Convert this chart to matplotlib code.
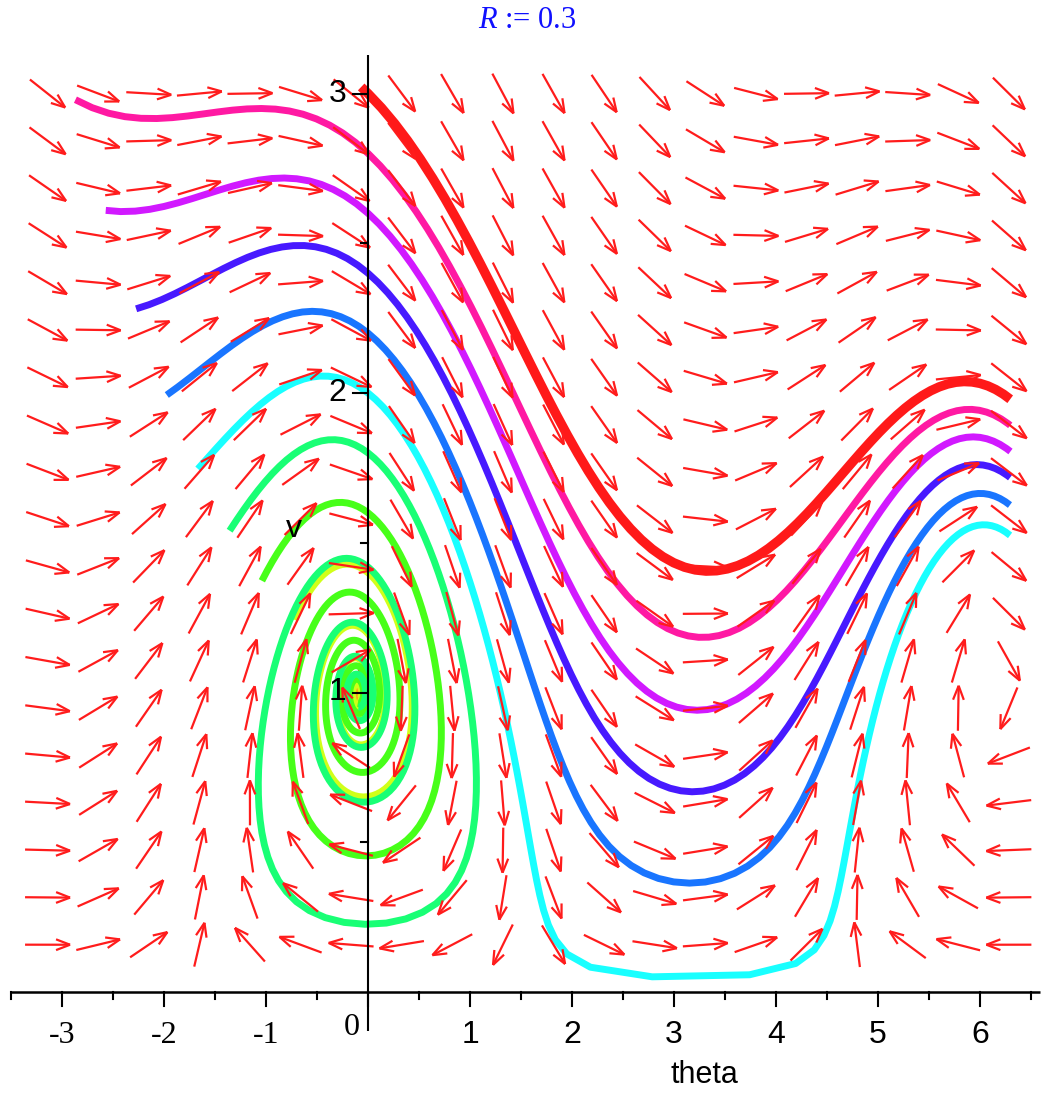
import numpy as np
import matplotlib
matplotlib.use("Agg")
import matplotlib.pyplot as plt
from matplotlib.collections import LineCollection
from matplotlib.colors import hsv_to_rgb

# glider (phugoid) model: theta' = (v^2 - cos theta)/v, v' = -sin theta - D v^2
DRAG = 0.1
THETA_RANGE = (-np.pi, 2 * np.pi)
V_RANGE = (0.0, 3.0)
GRID_N = 20

# initial conditions at t = 0 and the time span
THETA0 = [0.0, 0.0, 0.0, 0.0, 0.0, 0.0, 0.0, 0.0, 0.0, 0.0, 0.0]
V0 = [3.0, 2.8, 2.6, 2.4, 2.2, 2.0, 1.8, 1.6, 1.4, 1.2, 1.0]
T_SPAN = (-1.0, 20.0)
HUES = [1.0, 0.9, 0.8, 0.7, 0.6, 0.5, 0.4, 0.3, 0.2, 0.1, 0.0]

X_TICKS = [-3, -2, -1, 0, 1, 2, 3, 4, 5, 6]
Y_TICKS = [1, 2, 3]

# pixel layout of the axes
PX_X, PX_Y = 102.0, 299.5
X0_PX, Y0_PX = 368.0, 992.0
W_PX, H_PX = 1046, 1093


def rhs(th, v):
    return (v * v - np.cos(th)) / v, -np.sin(th) - DRAG * v * v


def inside(th, v):
    return (THETA_RANGE[0] - 0.01 <= th <= THETA_RANGE[1] + 0.01
            and 0.0 < v <= V_RANGE[1] + 0.02)


def integrate(th, v, t_end, dt=0.005, every=10):
    steps = int(round(abs(t_end) / dt))
    h = dt if t_end > 0 else -dt
    pts = [(th, v)]
    for i in range(steps):
        k1 = rhs(th, v)
        k2 = rhs(th + h / 2 * k1[0], v + h / 2 * k1[1])
        k3 = rhs(th + h / 2 * k2[0], v + h / 2 * k2[1])
        k4 = rhs(th + h * k3[0], v + h * k3[1])
        th = th + h / 6 * (k1[0] + 2 * k2[0] + 2 * k3[0] + k4[0])
        v = v + h / 6 * (k1[1] + 2 * k2[1] + 2 * k3[1] + k4[1])
        if not inside(th, v):
            pts.append((th, v))
            return pts
        if (i + 1) % every == 0:
            pts.append((th, v))
    if pts[-1] != (th, v):
        pts.append((th, v))
    return pts


fig = plt.figure(figsize=(W_PX / 100, H_PX / 100), dpi=100)
ax = fig.add_axes([0, 0, 1, 1])
ax.set_xlim(-X0_PX / PX_X, (W_PX - X0_PX) / PX_X)
ax.set_ylim(-(H_PX - Y0_PX) / PX_Y, Y0_PX / PX_Y)
ax.axis("off")

# trajectories
for i in reversed(range(len(V0))):
    back = integrate(THETA0[i], V0[i], T_SPAN[0])
    fwd = integrate(THETA0[i], V0[i], T_SPAN[1])
    pts = np.array(back[::-1] + fwd[1:])
    color = hsv_to_rgb((HUES[i] % 1.0, 0.9, 1.0))
    lw = 6.8 if i == 0 else 5.0
    ax.plot(pts[:, 0], pts[:, 1], color=color, lw=lw, solid_capstyle="butt",
            solid_joinstyle="round", zorder=2)

# direction field
arrow_len, head_len, head_ang = 45.0, 15.0, np.radians(21)
segs = []
for th in np.linspace(THETA_RANGE[0], THETA_RANGE[1], GRID_N):
    for v in np.linspace(V_RANGE[0], V_RANGE[1], GRID_N)[1:]:
        dth, dv = rhs(th, v)
        ux, uy = dth * PX_X, dv * PX_Y
        n = np.hypot(ux, uy)
        ux, uy = ux / n, uy / n
        tail = (-ux * arrow_len / 2, -uy * arrow_len / 2)
        tip = (ux * arrow_len / 2, uy * arrow_len / 2)
        lines = [[tail, tip]]
        for s in (1, -1):
            c, sn = np.cos(s * head_ang), np.sin(s * head_ang)
            bx = -(ux * c - uy * sn) * head_len
            by = -(ux * sn + uy * c) * head_len
            lines.append([tip, (tip[0] + bx, tip[1] + by)])
        for a, b in lines:
            segs.append([(th + a[0] / PX_X, v + a[1] / PX_Y),
                         (th + b[0] / PX_X, v + b[1] / PX_Y)])
ax.add_collection(LineCollection(segs, colors="#ff1c1c", linewidths=1.6,
                                 zorder=3))

# axes lines and ticks
ax.plot([-3.51, 6.59], [0, 0], color="black", lw=1.8, zorder=4,
        solid_capstyle="butt")
ax.plot([0, 0], [-0.13, 3.13], color="black", lw=1.5, zorder=4,
        solid_capstyle="butt")
for x in np.arange(-3.5, 6.51, 0.5):
    ln = 14 if float(x).is_integer() else 7
    ax.plot([x, x], [0, -ln / PX_Y], color="black", lw=1.5, zorder=4)
for y in np.arange(0.5, 3.01, 0.5):
    ln = 15 if float(y).is_integer() else 7
    ax.plot([0, -ln / PX_X], [y, y], color="black", lw=1.5, zorder=4)

sans = "Liberation Sans"
serif = "Liberation Serif"
for x in X_TICKS:
    if x == 0:
        ax.text(-0.16, -0.12, "0", family=serif, fontsize=23,
                ha="center", va="center")
    elif x < 0:
        ax.text(x, -0.145, f"-{abs(x)}", family=serif, fontsize=23,
                ha="center", va="center")
    else:
        ax.text(x, -0.145, str(x), family=sans, fontsize=23,
                ha="center", va="center")
for y in Y_TICKS:
    ax.text(-0.21, y, str(y), family=sans, fontsize=23, ha="right",
            va="center")
ax.text(3.30, -0.277, "theta", family=sans, fontsize=22, ha="center",
        va="center")
ax.text(-0.725, 1.546, "v", family=sans, fontsize=23, ha="center",
        va="center")

plt.rcParams["mathtext.fontset"] = "custom"
plt.rcParams["mathtext.it"] = "Liberation Serif:italic"
plt.rcParams["mathtext.rm"] = "Liberation Serif"
fig.text(527 / W_PX, 1 - 21 / H_PX, r"$R$ := 0.3", family=serif,
         fontsize=22, color="#1010ff", ha="center", va="center")

fig.savefig("out.png", dpi=100)
